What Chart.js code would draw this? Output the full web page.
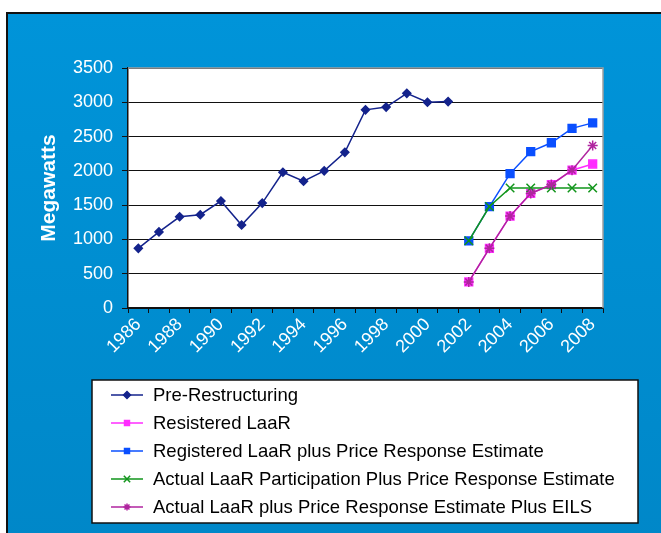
<!DOCTYPE html>
<html>
<head>
<meta charset="utf-8">
<script src="https://cdn.jsdelivr.net/npm/chart.js@4/dist/chart.umd.min.js"></script>
<style>
  body { margin: 0; background: #fff; width: 661px; height: 533px; overflow: hidden; position: relative; }
  #frame {
    position: absolute; left: 6px; top: 12px; width: 670px; height: 540px;
    border: 2px solid #111; box-sizing: border-box;
    background: linear-gradient(to bottom, #0094d9 0%, #0087c8 100%);
  }
  #wrap { position: absolute; left: 0; top: 0; width: 661px; height: 533px; }
</style>
</head>
<body>
<div id="frame"></div>
<div id="wrap"><canvas id="stockChart"></canvas></div>
<script>
// years on the x axis
var years = ['1986','1987','1988','1989','1990','1991','1992','1993','1994','1995','1996','1997',
             '1998','1999','2000','2001','2002','2003','2004','2005','2006','2007','2008'];

// series values (MW), null where there is no point
var preRestructuring = [870, 1110, 1330, 1360, 1560, 1210, 1530, 1980, 1850, 2000, 2270, 2890,
                        2930, 3130, 3000, 3010, null, null, null, null, null, null, null];
var resisteredLaar = [null, null, null, null, null, null, null, null, null, null, null, null,
                      null, null, null, null, 380, 870, 1340, 1670, 1800, 2010, 2100];
var registeredPlusPrice = [null, null, null, null, null, null, null, null, null, null, null, null,
                           null, null, null, null, 980, 1480, 1960, 2280, 2410, 2620, 2700];
var actualParticipation = [null, null, null, null, null, null, null, null, null, null, null, null,
                           null, null, null, null, 980, 1480, 1750, 1750, 1750, 1750, 1750];
var actualPlusEils = [null, null, null, null, null, null, null, null, null, null, null, null,
                      null, null, null, null, 380, 870, 1340, 1670, 1800, 2010, 2370];

var yTicks = [0, 500, 1000, 1500, 2000, 2500, 3000, 3500];

var FONT = 'Arial, "Liberation Sans", sans-serif';

// draws the boxed legend under the plot
var boxLegend = {
    id: 'boxLegend',
    afterDraw: function (chart) {
        var ctx = chart.ctx;
        ctx.save();
        ctx.fillStyle = '#fff';
        ctx.fillRect(92, 380, 546, 143);
        ctx.strokeStyle = '#111';
        ctx.lineWidth = 1.5;
        ctx.strokeRect(92, 380, 546, 143);
        chart.data.datasets.forEach(function (ds, i) {
            var y = 395 + i * 28;
            ctx.strokeStyle = ds.borderColor;
            ctx.lineWidth = 1.5;
            ctx.beginPath();
            ctx.moveTo(111, y);
            ctx.lineTo(143, y);
            ctx.stroke();
            ctx.fillStyle = ds.pointBackgroundColor;
            ctx.strokeStyle = ds.pointBorderColor;
            Chart.helpers.drawPoint(ctx, {
                pointStyle: ds.pointStyle,
                radius: ds.pointStyle === 'crossRot' ? 4.5 : 3.5,
                borderWidth: 1.5,
                rotation: 0
            }, 127, y);
            ctx.fillStyle = '#000';
            ctx.font = '18.5px ' + FONT;
            ctx.textBaseline = 'middle';
            ctx.textAlign = 'left';
            ctx.fillText(ds.label, 153, y + 1);
        });
        // gray border round the plot area (top and right)
        var a = chart.chartArea;
        ctx.strokeStyle = '#a0a0a0';
        ctx.lineWidth = 1.5;
        ctx.beginPath();
        ctx.moveTo(a.left, a.top);
        ctx.lineTo(a.right, a.top);
        ctx.lineTo(a.right, a.bottom);
        ctx.stroke();
        ctx.restore();
    }
};

// white plot area
var plotBg = {
    id: 'plotBg',
    beforeDraw: function (chart) {
        var a = chart.chartArea;
        chart.ctx.save();
        chart.ctx.fillStyle = '#fff';
        chart.ctx.fillRect(a.left, a.top, a.right - a.left, a.bottom - a.top);
        chart.ctx.restore();
    }
};

function series(label, data, color, style, radius, order) {
    return {
        label: label,
        data: data,
        order: order,
        borderColor: color,
        backgroundColor: color,
        pointBackgroundColor: color,
        pointBorderColor: color,
        pointStyle: style,
        pointRadius: radius,
        pointBorderWidth: 1.5,
        borderWidth: 1.5,
        spanGaps: false,
        tension: 0
    };
}

var ctx = document.getElementById('stockChart').getContext('2d');
var chart = new Chart(ctx, {
    type: 'line',
    data: {
        labels: years,
        datasets: [
            series('Pre-Restructuring', preRestructuring, '#14238c', 'rectRot', 4, 5),
            series('Resistered LaaR', resisteredLaar, '#ff2cff', 'rect', 5.5, 4),
            series('Registered LaaR plus Price Response Estimate', registeredPlusPrice, '#0a4fff', 'rect', 5.5, 3),
            series('Actual LaaR Participation Plus Price Response Estimate', actualParticipation, '#11951b', 'crossRot', 6, 2),
            series('Actual LaaR plus Price Response Estimate Plus EILS', actualPlusEils, '#b0259f', 'star', 5, 1)
        ]
    },
    options: {
        responsive: true,
        maintainAspectRatio: false,
        animation: false,
        layout: { padding: { left: 0, top: 68, right: 58, bottom: 0 } },
        plugins: { legend: { display: false }, tooltip: { enabled: false } },
        scales: {
            x: {
                type: 'category',
                offset: true,
                afterFit: function (s) { s.height = 225; },
                grid: {
                    offset: true,
                    drawOnChartArea: false,
                    drawTicks: true,
                    tickLength: 5,
                    color: '#111',
                    lineWidth: 1
                },
                border: { color: '#111', width: 1.5 },
                ticks: {
                    autoSkip: false,
                    minRotation: 45,
                    maxRotation: 45,
                    color: '#fff',
                    font: { size: 18, family: FONT },
                    padding: 1,
                    callback: function (v, i) { return i % 2 === 0 ? years[i] : ''; }
                }
            },
            y: {
                min: 0,
                max: 3500,
                afterFit: function (s) { s.width = 128; },
                afterBuildTicks: function (s) { s.ticks = yTicks.map(function (v) { return { value: v }; }); },
                grid: { color: '#111', lineWidth: 1, tickLength: 6 },
                border: { color: '#111', width: 1.5 },
                ticks: {
                    color: '#fff',
                    font: { size: 18, family: FONT },
                    padding: 9,
                    callback: function (v) { return String(v); }
                },
                title: {
                    display: true,
                    text: 'Megawatts',
                    color: '#fff',
                    font: { size: 21, weight: 'bold', family: FONT },
                    padding: { top: 37, bottom: 0 }
                }
            }
        }
    },
    plugins: [plotBg, boxLegend]
});
</script>
</body>
</html>
